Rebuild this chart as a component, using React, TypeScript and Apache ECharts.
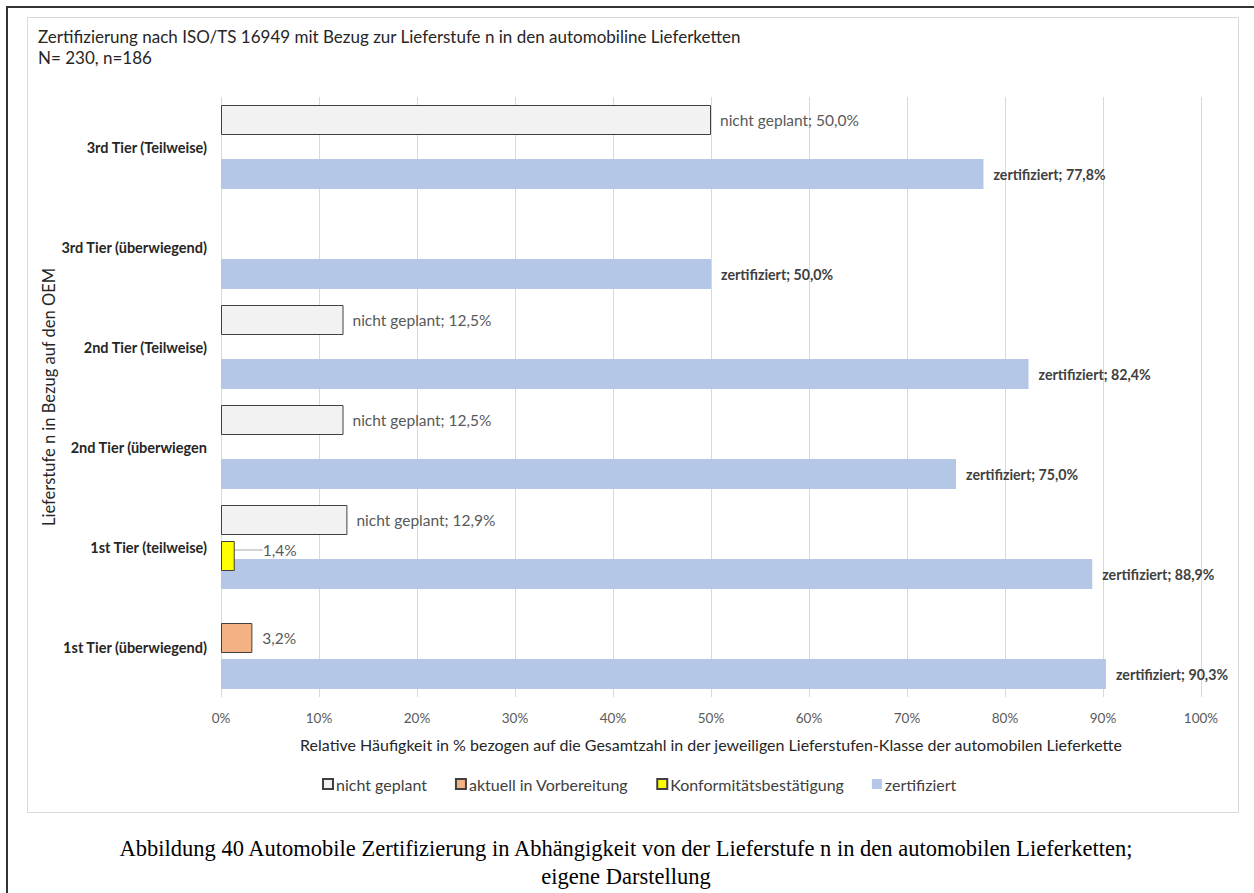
import React, { useEffect, useRef } from "react";
import * as echarts from "echarts";

const categories = [
  "1st Tier (überwiegend)",
  "1st Tier (teilweise)",
  "2nd Tier (überwiegen",
  "2nd Tier (Teilweise)",
  "3rd Tier (überwiegend)",
  "3rd Tier (Teilweise)",
];
const nichtGeplant: (number | null)[] = [null, 12.9, 12.5, 12.5, null, 50.0];
const aktuellInVorbereitung: (number | null)[] = [3.2, null, null, null, null, null];
const konformitaet: (number | null)[] = [null, 1.4, null, null, null, null];
const zertifiziert: (number | null)[] = [90.3, 88.9, 75.0, 82.4, 50.0, 77.8];
const xTicks = [0, 10, 20, 30, 40, 50, 60, 70, 80, 90, 100];

const FONT = "Lato, 'Noto Sans', sans-serif";
const fmt = (v: number) => v.toFixed(1).replace(".", ",") + "%";

export default function App() {
  const ref = useRef<HTMLDivElement>(null);
  useEffect(() => {
    document.body.style.margin = "0";
    const chart = echarts.init(ref.current!, undefined, { renderer: "svg" });
    chart.setOption({
      animation: false,
      backgroundColor: "#ffffff",
      textStyle: { fontFamily: FONT },
      title: {
        text: "Zertifizierung nach ISO/TS 16949 mit Bezug zur Lieferstufe n in den automobiline Lieferketten\nN= 230, n=186",
        left: 33,
        top: 21,
        textStyle: { fontFamily: FONT, fontSize: 17, fontWeight: "normal", color: "#262626", lineHeight: 21 },
      },
      legend: {
        bottom: 96,
        left: 317,
        itemWidth: 10,
        itemHeight: 10,
        itemGap: 28,
        icon: "rect",
        textStyle: { fontFamily: FONT, fontSize: 16, color: "#404040", padding: [0, 0, 0, -2] },
        data: ["nicht geplant", "aktuell in Vorbereitung", "Konformitätsbestätigung", "zertifiziert"],
      },
      grid: { left: 221, right: 53, top: 97, bottom: 196, containLabel: false },
      xAxis: {
        type: "value",
        min: 0,
        max: 100,
        interval: 10,
        name: "Relative Häufigkeit in % bezogen auf die Gesamtzahl in der jeweiligen Lieferstufen-Klasse der automobilen Lieferkette",
        nameLocation: "middle",
        nameGap: 39,
        nameTextStyle: { fontFamily: FONT, fontSize: 16, color: "#262626" },
        axisLine: { show: false },
        axisTick: { show: false },
        axisLabel: {
          fontFamily: FONT,
          fontSize: 13.5,
          color: "#595959",
          margin: 14,
          formatter: (v: number) => (xTicks.includes(v) ? v + "%" : ""),
        },
        splitLine: { show: true, lineStyle: { color: "#d9d9d9", width: 1 } },
      },
      yAxis: {
        type: "category",
        data: categories,
        name: "Lieferstufe n in Bezug auf den OEM",
        nameLocation: "middle",
        nameGap: 164,
        nameMoveOverlap: false,
        nameRotate: 90,
        nameTextStyle: { fontFamily: FONT, fontSize: 16.5, color: "#262626" },
        axisLine: { show: false },
        axisTick: { show: false },
        axisLabel: { fontFamily: FONT, fontSize: 14.5, fontWeight: "bold", color: "#262626", margin: 14 },
        splitLine: { show: false },
      },
      series: [
        {
          name: "nicht geplant",
          type: "bar",
          data: nichtGeplant,
          barWidth: 30,
          barGap: "-40%",
          z: 2,
          itemStyle: { color: "#f2f2f2", borderColor: "#404040", borderWidth: 1 },
          label: {
            show: true,
            position: "right",
            distance: 9,
            fontFamily: FONT,
            fontSize: 15.5,
            color: "#595959",
            formatter: (p: any) => "nicht geplant; " + fmt(p.value),
          },
        },
        {
          name: "aktuell in Vorbereitung",
          type: "bar",
          data: aktuellInVorbereitung,
          barWidth: 30,
          barGap: "-40%",
          z: 2,
          itemStyle: { color: "#f4b183", borderColor: "#404040", borderWidth: 1 },
          label: {
            show: true,
            position: "right",
            distance: 10,
            fontFamily: FONT,
            fontSize: 15.5,
            color: "#595959",
            formatter: (p: any) => fmt(p.value),
          },
        },
        {
          name: "Konformitätsbestätigung",
          type: "bar",
          data: konformitaet,
          barWidth: 30,
          barGap: "-40%",
          z: 3,
          itemStyle: { color: "#ffff00", borderColor: "#404040", borderWidth: 1 },
          label: {
            show: true,
            position: "right",
            distance: 6,
            fontFamily: FONT,
            fontSize: 15.5,
            color: "#595959",
            formatter: (p: any) => fmt(p.value),
          },
          labelLayout: { dx: 22, dy: -6 },
          labelLine: { show: true, lineStyle: { color: "#a6a6a6", width: 1 } },
        },
        {
          name: "zertifiziert",
          type: "bar",
          data: zertifiziert,
          barWidth: 30,
          barGap: "-40%",
          z: 1,
          itemStyle: { color: "#b4c7e7" },
          label: {
            show: true,
            position: "right",
            distance: 10,
            fontFamily: FONT,
            fontSize: 14.2,
            fontWeight: "bold",
            color: "#404040",
            formatter: (p: any) => "zertifiziert; " + fmt(p.value),
          },
        },
      ],
      graphic: [
        {
          type: "rect",
          shape: { x: 27.5, y: 17.5, width: 1211, height: 795 },
          style: { fill: "none", stroke: "#d9d9d9", lineWidth: 1 },
          silent: true,
          z: -1,
        },
        {
          type: "polyline",
          shape: { points: [[7, 893], [7, 7], [1254, 7]] },
          style: { fill: "none", stroke: "#333333", lineWidth: 2 },
          silent: true,
        },
        {
          type: "text",
          x: 626,
          y: 848,
          style: {
            text: "Abbildung 40 Automobile Zertifizierung in Abhängigkeit von der Lieferstufe n in den automobilen Lieferketten;",
            font: "22.5px 'Liberation Serif', 'Times New Roman', serif",
            fill: "#000000",
            align: "center",
            verticalAlign: "middle",
          },
        },
        {
          type: "text",
          x: 626,
          y: 876,
          style: {
            text: "eigene Darstellung",
            font: "22.5px 'Liberation Serif', 'Times New Roman', serif",
            fill: "#000000",
            align: "center",
            verticalAlign: "middle",
          },
        },
      ],
    });
    return () => chart.dispose();
  }, []);
  return <div ref={ref} style={{ position: "absolute", left: 0, top: 0, width: 1254, height: 893 }} />;
}
